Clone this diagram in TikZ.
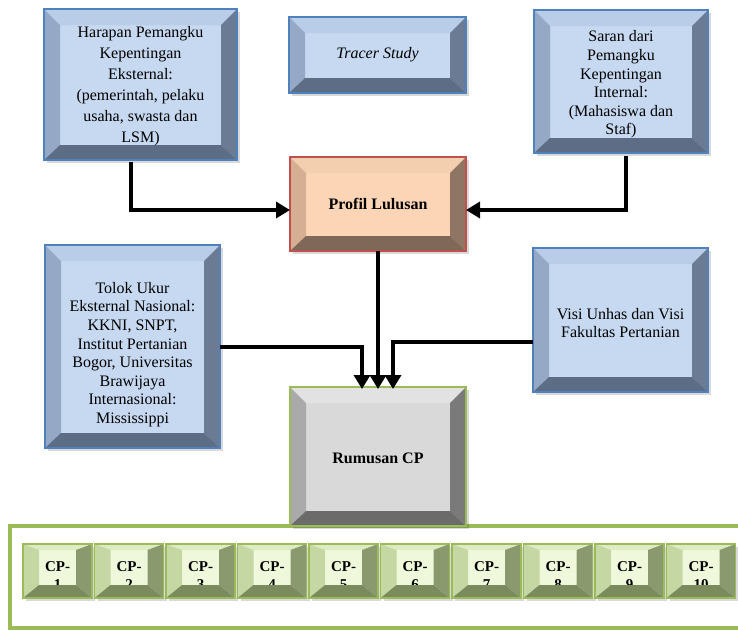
\documentclass[tikz,border=0pt]{standalone}
\usepackage{fontspec}
\setmainfont{Liberation Serif}
\usetikzlibrary{arrows.meta}
\definecolor{blueface}{RGB}{198,217,241}
\definecolor{bluetop}{RGB}{186,205,232}
\definecolor{blueleft}{RGB}{149,168,198}
\definecolor{blueright}{RGB}{107,123,148}
\definecolor{bluebot}{RGB}{93,109,133}
\definecolor{blueline}{RGB}{79,129,189}
\definecolor{peachface}{RGB}{251,213,181}
\definecolor{peachtop}{RGB}{244,207,175}
\definecolor{peachleft}{RGB}{214,174,147}
\definecolor{peachright}{RGB}{142,117,100}
\definecolor{peachbot}{RGB}{127,104,88}
\definecolor{redline}{RGB}{192,80,77}
\definecolor{grayface}{RGB}{217,217,217}
\definecolor{graytop}{RGB}{226,226,226}
\definecolor{grayleft}{RGB}{170,170,170}
\definecolor{grayright}{RGB}{122,122,122}
\definecolor{graybot}{RGB}{107,107,107}
\definecolor{greenline}{RGB}{155,187,89}
\definecolor{cpface}{RGB}{240,248,220}
\definecolor{cptop}{RGB}{222,236,196}
\definecolor{cpleft}{RGB}{197,215,163}
\definecolor{cpright}{RGB}{138,154,110}
\definecolor{cpbot}{RGB}{123,139,94}
\def\bvx{16}\def\bvt{16}\def\bvb{15}
% #1 name, #2 x1, #3 y1, #4 x2, #5 y2, #6 colour prefix, #7 border, #8 text options, #9 text
\newcommand\bevelbox[9]{%
  \fill[black,opacity=.15] (#2+3,#3+3) rectangle (#4+3,#5+3);
  \fill[#6face] (#2,#3) rectangle (#4,#5);
  \node[inner sep=0pt,outer sep=0pt,minimum width={#4-#2},minimum height={#5-#3},align=center,#8] (#1) at ({(#2+#4)/2},{(#3+#5)/2}) {#9};
  \fill[#6top] (#2,#3) -- (#4,#3) -- (#4-\bvx,#3+\bvt) -- (#2+\bvx,#3+\bvt) -- cycle;
  \fill[#6left] (#2,#3) -- (#2+\bvx,#3+\bvt) -- (#2+\bvx,#5-\bvb) -- (#2,#5) -- cycle;
  \fill[#6right] (#4,#3) -- (#4,#5) -- (#4-\bvx,#5-\bvb) -- (#4-\bvx,#3+\bvt) -- cycle;
  \fill[#6bot] (#2,#5) -- (#4,#5) -- (#4-\bvx,#5-\bvb) -- (#2+\bvx,#5-\bvb) -- cycle;
  \draw[#7,line width=1.5pt] (#2,#3) rectangle (#4,#5);
}
\tikzset{
  conn/.style={line width=4pt,-{Triangle[length=14pt,width=16pt]}},
  txtA/.style={font=\fontsize{16}{21}\selectfont},
  txtB/.style={font=\fontsize{16}{18.6}\selectfont},
  txtBold/.style={font=\fontsize{16}{19}\selectfont\bfseries},
  txtCP/.style={font=\fontsize{15}{18}\selectfont\bfseries,yshift=-5pt},
  frame/.style={draw=greenline,line width=4pt}
}
\begin{document}
\begin{tikzpicture}[x=1pt,y=-1pt]
\useasboundingbox (0,0) rectangle (738,630);
\clip (0,0) rectangle (738,630);
\fill[white] (0,0) rectangle (738,630);
% bottom frame
\draw[frame] (10,526) rectangle (760,628);
% boxes
\bevelbox{hp}{44}{9}{237}{160}{blue}{blueline}{txtA,yshift=-2pt}{Harapan Pemangku\\Kepentingan\\Eksternal:\\(pemerintah, pelaku\\usaha, swasta dan\\LSM)}
\bevelbox{ts}{289}{17}{466}{93}{blue}{blueline}{txtA}{\itshape Tracer Study}
\bevelbox{sa}{534}{10}{708}{153}{blue}{blueline}{txtB,yshift=-3pt}{Saran dari\\Pemangku\\Kepentingan\\Internal:\\(Mahasiswa dan\\Staf)}
\bevelbox{pl}{290}{157}{466}{251}{peach}{redline}{txtBold}{Profil Lulusan}
\bevelbox{tk}{45}{245}{220}{448}{blue}{blueline}{txtB,yshift=-8pt}{Tolok Ukur\\Eksternal Nasional:\\KKNI, SNPT,\\Institut Pertanian\\Bogor, Universitas\\Brawijaya\\Internasional:\\Mississippi}
\bevelbox{vi}{533}{248}{708}{392}{blue}{blueline}{txtB,yshift=-3pt}{Visi Unhas dan Visi\\Fakultas Pertanian}
\bevelbox{rc}{290}{387}{466}{526}{gray}{greenline}{txtBold,yshift=-2pt}{Rumusan CP}
% CP boxes
\def\bvx{16}\def\bvt{6}\def\bvb{13}
\foreach \i in {1,...,10}{
  \pgfmathsetmacro\xa{23+(\i-1)*71.5}
  \pgfmathsetmacro\xb{\xa+69}
  \bevelbox{cp\i}{\xa}{544}{\xb}{598}{cp}{greenline}{txtCP}{CP-\\\i}
}
% connectors
\draw[conn] ([xshift=-10pt]hp.south) |- ([yshift=-6pt]pl.west);
\draw[conn] ([xshift=5pt]sa.south) |- ([yshift=-6pt]pl.east);
\draw[conn] (pl.south) -- (rc.north);
\draw[conn] ([yshift=7.5pt]tk.east) -| ([xshift=-16pt]rc.north);
\draw[conn] ([yshift=-19pt]vi.west) -| ([xshift=15pt]rc.north);
\end{tikzpicture}
\end{document}
